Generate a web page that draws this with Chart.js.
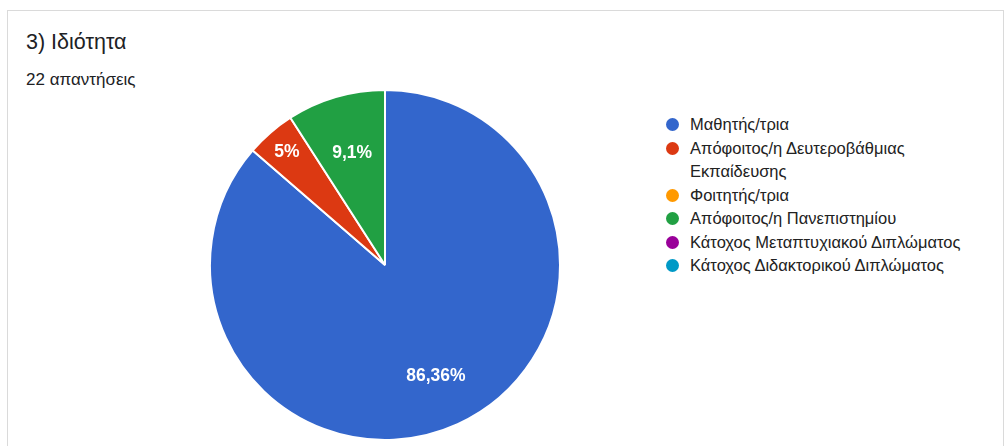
<!DOCTYPE html>
<html>
<head>
<meta charset="utf-8">
<script src="https://cdn.jsdelivr.net/npm/chart.js@4"></script>
<style>
  html, body { margin: 0; padding: 0; background: #fff; }
  body { width: 1006px; height: 446px; position: relative; overflow: hidden; font-family: Arial, "Liberation Sans", sans-serif; }
  .card { position: absolute; left: 7px; top: 10px; width: 997px; height: 460px; border: 1px solid #dadada; box-sizing: border-box; }
  .title { position: absolute; left: 26px; top: 30px; font-size: 21.5px; color: #202124; }
  .subtitle { position: absolute; left: 26px; top: 70px; font-size: 17px; color: #202124; }
  #chartBox { position: absolute; left: 209px; top: 89px; width: 352px; height: 352px; }
  #legend { position: absolute; left: 666px; top: 113px; margin: 0; padding: 0; list-style: none; }
  #legend li { position: relative; padding-left: 24px; font-size: 16.5px; line-height: 23.5px; color: #222; width: 290px; }
  #legend li span.dot { position: absolute; left: 0; top: 5px; width: 13px; height: 13px; border-radius: 50%; }
</style>
</head>
<body>
<div class="card"></div>
<div class="title">3) Ιδιότητα</div>
<div class="subtitle">22 απαντήσεις</div>
<div id="chartBox"><canvas id="pie"></canvas></div>
<ul id="legend"></ul>

<script>
// ============ DATA ============
const labels = [
  "Μαθητής/τρια",
  "Απόφοιτος/η Δευτεροβάθμιας Εκπαίδευσης",
  "Φοιτητής/τρια",
  "Απόφοιτος/η Πανεπιστημίου",
  "Κάτοχος Μεταπτυχιακού Διπλώματος",
  "Κάτοχος Διδακτορικού Διπλώματος"
];
const answers = [19, 1, 0, 2, 0, 0];
const sliceText = ["86,36%", "5%", "", "9,1%", "", ""];
const colors = ["#3366cc", "#dc3912", "#ff9900", "#21a043", "#990099", "#0099c6"];

// ============ LEGEND ============
const legend = document.getElementById("legend");
labels.forEach((name, i) => {
  const li = document.createElement("li");
  const dot = document.createElement("span");
  dot.className = "dot";
  dot.style.background = colors[i];
  li.appendChild(dot);
  li.appendChild(document.createTextNode(name));
  legend.appendChild(li);
});

// ============ SLICE LABELS ============
// small slices get pushed out a bit, like Google Forms does
const labelDist = [0.7, 0.855, 0.7, 0.665, 0.7, 0.7];

const sliceLabels = {
  id: "sliceLabels",
  afterDatasetsDraw(chart) {
    const ctx = chart.ctx;
    const meta = chart.getDatasetMeta(0);
    ctx.save();
    ctx.fillStyle = "#fff";
    ctx.font = "bold 17.5px Arial, 'Liberation Sans', sans-serif";
    ctx.textAlign = "center";
    ctx.textBaseline = "middle";
    meta.data.forEach((arc, i) => {
      if (!sliceText[i]) return;
      const p = arc.getProps(["x", "y", "startAngle", "endAngle", "outerRadius"], true);
      const mid = (p.startAngle + p.endAngle) / 2;
      const r = p.outerRadius * labelDist[i];
      ctx.fillText(sliceText[i], p.x + Math.cos(mid) * r, p.y + Math.sin(mid) * r);
    });
    ctx.restore();
  }
};

// ============ CHART ============
new Chart(document.getElementById("pie").getContext("2d"), {
  type: "pie",
  data: {
    labels,
    datasets: [
      {
        data: answers,
        backgroundColor: colors,
        borderColor: "#ffffff",
        borderWidth: 2
      }
    ]
  },
  options: {
    responsive: true,
    maintainAspectRatio: false,
    animation: false,
    plugins: {
      legend: { display: false },
      tooltip: { enabled: false }
    }
  },
  plugins: [sliceLabels]
});
</script>
</body>
</html>
